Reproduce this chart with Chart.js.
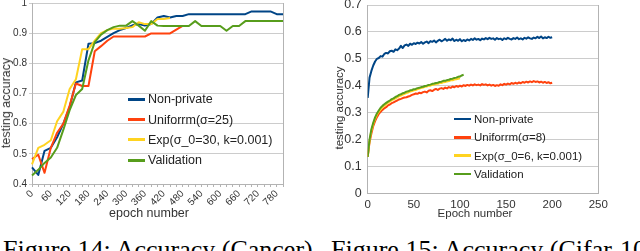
<!DOCTYPE html>
<html>
<head>
<meta charset="utf-8">
<script src="https://cdn.jsdelivr.net/npm/chart.js@4.4.1/dist/chart.umd.min.js"></script>
<style>
  html, body { margin: 0; padding: 0; background: #fff; }
  body { width: 640px; height: 251px; position: relative; overflow: hidden; font-family: "Liberation Sans", Arial, sans-serif; }
  canvas { position: absolute; display: block; }
  .ytitle { position: absolute; white-space: nowrap; transform: translate(-50%, -50%) rotate(-90deg); color: #333; }
  .xtitle { position: absolute; white-space: nowrap; transform: translate(-50%, -50%); color: #333; }
  .caption { position: absolute; font-family: "Liberation Serif", "Times New Roman", serif; font-size: 26px; line-height: 26px; white-space: nowrap; color: #000; }
  .legend { position: absolute; color: #222; }
  .legend .row { position: relative; white-space: nowrap; }
  .legend .swatch { position: absolute; left: 0; }
</style>
</head>
<body>
<canvas id="cancer" width="300" height="240" style="left:0;top:-10px"></canvas>
<canvas id="cifar" width="300" height="240" style="left:320px;top:-10px"></canvas>

<div class="ytitle" style="left:6px;top:103px;font-size:12.5px">testing accuracy</div>
<div class="xtitle" style="left:149px;top:213px;font-size:12.5px">epoch number</div>
<div class="ytitle" style="left:339px;top:108px;font-size:11.5px">testing accuracy</div>
<div class="xtitle" style="left:475px;top:213px;font-size:11.5px">Epoch number</div>

<div id="cancerLegend" class="legend" style="left:128px;top:89.4px;font-size:12.5px"></div>
<div id="cifarLegend" class="legend" style="left:454px;top:110px;font-size:11.5px"></div>

<div class="caption" style="left:3px;top:237px">Figure 14: Accuracy (Cancer)</div>
<div class="caption" style="left:331px;top:237px">Figure 15: Accuracy (Cifar-10)</div>

<script>
// ---- Figure 14 (Cancer) ----
const cancerEpochs = [0, 20, 40, 60, 80, 100, 120, 140, 160, 180, 200, 220, 240, 260, 280, 300, 320, 340, 360, 380,
  400, 420, 440, 460, 480, 500, 520, 540, 560, 580, 600, 620, 640, 660, 680, 700, 720, 740, 760, 780, 800];
const cancerXTickLabels = ['0', '60', '120', '180', '240', '300', '360', '420', '480', '540', '600', '660', '720', '780'];
const cancerYTickLabels = ['0.4', '0.5', '0.6', '0.7', '0.8', '0.9', '1'];

const cancerNonPrivate = [0.455, 0.43, 0.51, 0.52, 0.555, 0.6, 0.655, 0.737, 0.743, 0.865,
  0.867, 0.875, 0.888, 0.9, 0.91, 0.917, 0.926, 0.93, 0.925, 0.93,
  0.952, 0.957, 0.952, 0.957, 0.957, 0.963, 0.963, 0.963, 0.963, 0.963,
  0.963, 0.963, 0.963, 0.963, 0.963, 0.972, 0.972, 0.972, 0.972, 0.963, 0.963];
const cancerUniform = [0.483, 0.497, 0.437, 0.52, 0.57, 0.6, 0.66, 0.733, 0.725, 0.725,
  0.84, 0.857, 0.875, 0.889, 0.889, 0.889, 0.889, 0.889, 0.889, 0.899,
  0.899, 0.899, 0.899, 0.912, 0.924];
const cancerExp = [0.465, 0.52, 0.53, 0.545, 0.608, 0.64, 0.715, 0.747, 0.847, 0.847,
  0.875, 0.9, 0.91, 0.915, 0.915, 0.917, 0.92, 0.936, 0.93, 0.93,
  0.947, 0.947, 0.95];
const cancerValidation = [0.428, 0.447, 0.47, 0.488, 0.52, 0.58, 0.645, 0.695, 0.715, 0.81,
  0.87, 0.895, 0.91, 0.92, 0.925, 0.925, 0.94, 0.925, 0.908, 0.94,
  0.925, 0.924, 0.924, 0.924, 0.924, 0.924, 0.94, 0.924, 0.924, 0.924,
  0.924, 0.908, 0.924, 0.924, 0.94, 0.94, 0.94, 0.94, 0.94, 0.94, 0.94];

// ---- Figure 15 (Cifar-10) ----
const cifarXTickLabels = ['0', '50', '100', '150', '200', '250'];
const cifarYTickLabels = ['0', '0.1', '0.2', '0.3', '0.4', '0.5', '0.6', '0.7'];

const cifarNonPrivate = [0.355, 0.43, 0.455, 0.475, 0.49, 0.5, 0.503, 0.51, 0.508, 0.518,
  0.522, 0.52, 0.528, 0.53, 0.526, 0.535, 0.532, 0.538, 0.548, 0.54,
  0.55, 0.553, 0.548, 0.556, 0.552, 0.558, 0.555, 0.56, 0.557, 0.562,
  0.556, 0.561, 0.564, 0.558, 0.566, 0.563, 0.568, 0.561, 0.567, 0.571,
  0.565, 0.569, 0.574, 0.567, 0.572, 0.569, 0.575, 0.566, 0.571, 0.567,
  0.573, 0.565, 0.57, 0.566, 0.572, 0.568, 0.574, 0.57, 0.576, 0.571,
  0.574, 0.569, 0.575, 0.572, 0.577, 0.573, 0.578, 0.574, 0.576, 0.571,
  0.577, 0.573, 0.575, 0.57, 0.576, 0.573, 0.578, 0.574, 0.572, 0.577,
  0.574, 0.579, 0.573, 0.576, 0.572, 0.578, 0.575, 0.58, 0.576, 0.574,
  0.579, 0.576, 0.582, 0.577, 0.583, 0.576, 0.58, 0.577, 0.582, 0.578, 0.58];
const cifarUniform = [0.135, 0.19, 0.222, 0.25, 0.268, 0.283, 0.295, 0.303, 0.31, 0.316,
  0.32, 0.327, 0.33, 0.335, 0.338, 0.342, 0.345, 0.349, 0.351, 0.354,
  0.356, 0.357, 0.36, 0.362, 0.366, 0.368, 0.371, 0.37, 0.374, 0.372,
  0.376, 0.378, 0.375, 0.381, 0.383, 0.38, 0.385, 0.388, 0.384, 0.389,
  0.391, 0.388, 0.393, 0.39, 0.395, 0.392, 0.397, 0.394, 0.399, 0.396,
  0.4, 0.397, 0.402, 0.399, 0.403, 0.4, 0.404, 0.401, 0.405, 0.402,
  0.404, 0.401, 0.406, 0.403, 0.405, 0.401, 0.404, 0.4, 0.403, 0.399,
  0.402, 0.4, 0.405, 0.402, 0.407, 0.404, 0.408, 0.405, 0.41, 0.407,
  0.411, 0.408, 0.412, 0.409, 0.414, 0.411, 0.415, 0.412, 0.416, 0.413,
  0.417, 0.414, 0.416, 0.412, 0.415, 0.411, 0.414, 0.41, 0.413, 0.409, 0.411];
const cifarExp = [0.135, 0.195, 0.232, 0.258, 0.277, 0.292, 0.303, 0.312, 0.32, 0.326,
  0.331, 0.337, 0.341, 0.346, 0.349, 0.353, 0.357, 0.361, 0.363, 0.367,
  0.37, 0.373, 0.375, 0.378, 0.38, 0.383, 0.384, 0.387, 0.389, 0.391,
  0.393, 0.396, 0.397, 0.4, 0.4, 0.403, 0.404, 0.406, 0.407, 0.41,
  0.41, 0.413, 0.414, 0.416, 0.417, 0.42, 0.42, 0.423, 0.424, 0.426, 0.428];
const cifarValidation = [0.135, 0.2, 0.238, 0.262, 0.282, 0.297, 0.308, 0.318, 0.325, 0.331,
  0.336, 0.341, 0.345, 0.35, 0.353, 0.358, 0.361, 0.366, 0.368, 0.372,
  0.374, 0.378, 0.379, 0.383, 0.384, 0.387, 0.388, 0.391, 0.392, 0.395,
  0.396, 0.399, 0.4, 0.403, 0.404, 0.407, 0.408, 0.41, 0.411, 0.414,
  0.415, 0.418, 0.418, 0.421, 0.422, 0.425, 0.426, 0.429, 0.43, 0.433,
  0.434, 0.438, 0.441];

// LibreOffice default palette
const colors = ['#004586', '#ff420e', '#ffd320', '#579d1c'];
const gridColor = '#cccccc';
const axisColor = '#b3b3b3';

Chart.defaults.font.family = '"Liberation Sans", Arial, sans-serif';
Chart.defaults.color = '#333';

// epochs sampled every 2 for the cifar runs
const toPoints = (vals) => vals.map((v, i) => ({ x: i * 2, y: v }));

// right border of the plot box
const frame = {
  id: 'frame',
  afterDraw(chart) {
    const { ctx, chartArea } = chart;
    ctx.save();
    ctx.strokeStyle = axisColor;
    ctx.lineWidth = 1;
    ctx.beginPath();
    const x = Math.round(chartArea.right) + 0.5;
    ctx.moveTo(x, chartArea.top);
    ctx.lineTo(x, chartArea.bottom);
    ctx.stroke();
    ctx.restore();
  }
};

const lineDs = (label, data, i) => ({
  label: label,
  data: data,
  borderColor: colors[i],
  backgroundColor: colors[i],
  borderWidth: 2,
  pointRadius: 0,
  tension: 0,
  borderJoinStyle: 'round',
  order: 4 - i,
});

const cancerChart = new Chart(document.getElementById('cancer'), {
  type: 'line',
  data: {
    labels: cancerEpochs,
    datasets: [
      lineDs('Non-private', cancerNonPrivate, 0),
      lineDs('Uniforrm(σ=25)', cancerUniform, 1),
      lineDs('Exp(σ_0=30, k=0.001)', cancerExp, 2),
      lineDs('Validation', cancerValidation, 3),
    ],
  },
  options: {
    responsive: false,
    animation: false,
    layout: { padding: { top: 13, right: 17, left: 0, bottom: 0 } },
    plugins: { legend: { display: false }, tooltip: { enabled: false } },
    scales: {
      x: {
        type: 'category',
        grid: { drawOnChartArea: false, drawTicks: true, tickLength: 3, color: axisColor },
        border: { color: axisColor },
        ticks: {
          autoSkip: false,
          minRotation: 45,
          maxRotation: 45,
          padding: 1,
          font: { size: 10 },
          callback: function (value) {
            const lab = String(this.getLabelForValue(value));
            return cancerXTickLabels.includes(lab) ? lab : '';
          },
        },
        afterFit: (s) => { s.height = 46; },
      },
      y: {
        min: 0.4,
        max: 1,
        grid: { color: gridColor, tickLength: 3 },
        border: { color: axisColor },
        ticks: {
          stepSize: 0.1,
          padding: 2,
          font: { size: 10 },
          callback: (v, i) => cancerYTickLabels[i],
        },
        afterFit: (s) => { s.width = 32; },
      },
    },
  },
  plugins: [frame],
});

const cifarChart = new Chart(document.getElementById('cifar'), {
  type: 'line',
  data: {
    datasets: [
      lineDs('Non-private', toPoints(cifarNonPrivate), 0),
      lineDs('Uniforrm(σ=8)', toPoints(cifarUniform), 1),
      lineDs('Exp(σ_0=6, k=0.001)', toPoints(cifarExp), 2),
      lineDs('Validation', toPoints(cifarValidation), 3),
    ],
  },
  options: {
    responsive: false,
    animation: false,
    layout: { padding: { top: 15, right: 21.7, left: 0, bottom: 0 } },
    plugins: { legend: { display: false }, tooltip: { enabled: false } },
    scales: {
      x: {
        type: 'linear',
        min: 0,
        max: 250,
        grid: { drawOnChartArea: false, drawTicks: false },
        border: { color: axisColor },
        ticks: {
          stepSize: 50,
          padding: 5,
          maxRotation: 0,
          font: { size: 11.5 },
          callback: (v, i) => cifarXTickLabels[i],
        },
        afterFit: (s) => { s.height = 36.7; },
      },
      y: {
        min: 0,
        max: 0.7,
        grid: { color: gridColor, drawTicks: false },
        border: { color: axisColor },
        ticks: {
          stepSize: 0.1,
          padding: 6,
          font: { size: 12.5 },
          callback: (v, i) => cifarYTickLabels[i],
        },
        afterFit: (s) => { s.width = 47.7; },
      },
    },
  },
  plugins: [frame],
});

// legends laid over the plot, no background
function buildLegend(id, chart, rowH, swatchH) {
  const el = document.getElementById(id);
  chart.data.datasets.forEach((ds) => {
    const row = document.createElement('div');
    row.className = 'row';
    row.style.height = rowH + 'px';
    row.style.lineHeight = rowH + 'px';
    row.style.paddingLeft = '20px';
    const sw = document.createElement('span');
    sw.className = 'swatch';
    sw.style.width = '17px';
    sw.style.height = swatchH + 'px';
    sw.style.top = (rowH - swatchH) / 2 + 'px';
    sw.style.background = ds.borderColor;
    row.appendChild(sw);
    row.appendChild(document.createTextNode(ds.label));
    el.appendChild(row);
  });
}
buildLegend('cancerLegend', cancerChart, 20.2, 3);
buildLegend('cifarLegend', cifarChart, 18.3, 2.5);
</script>
</body>
</html>
